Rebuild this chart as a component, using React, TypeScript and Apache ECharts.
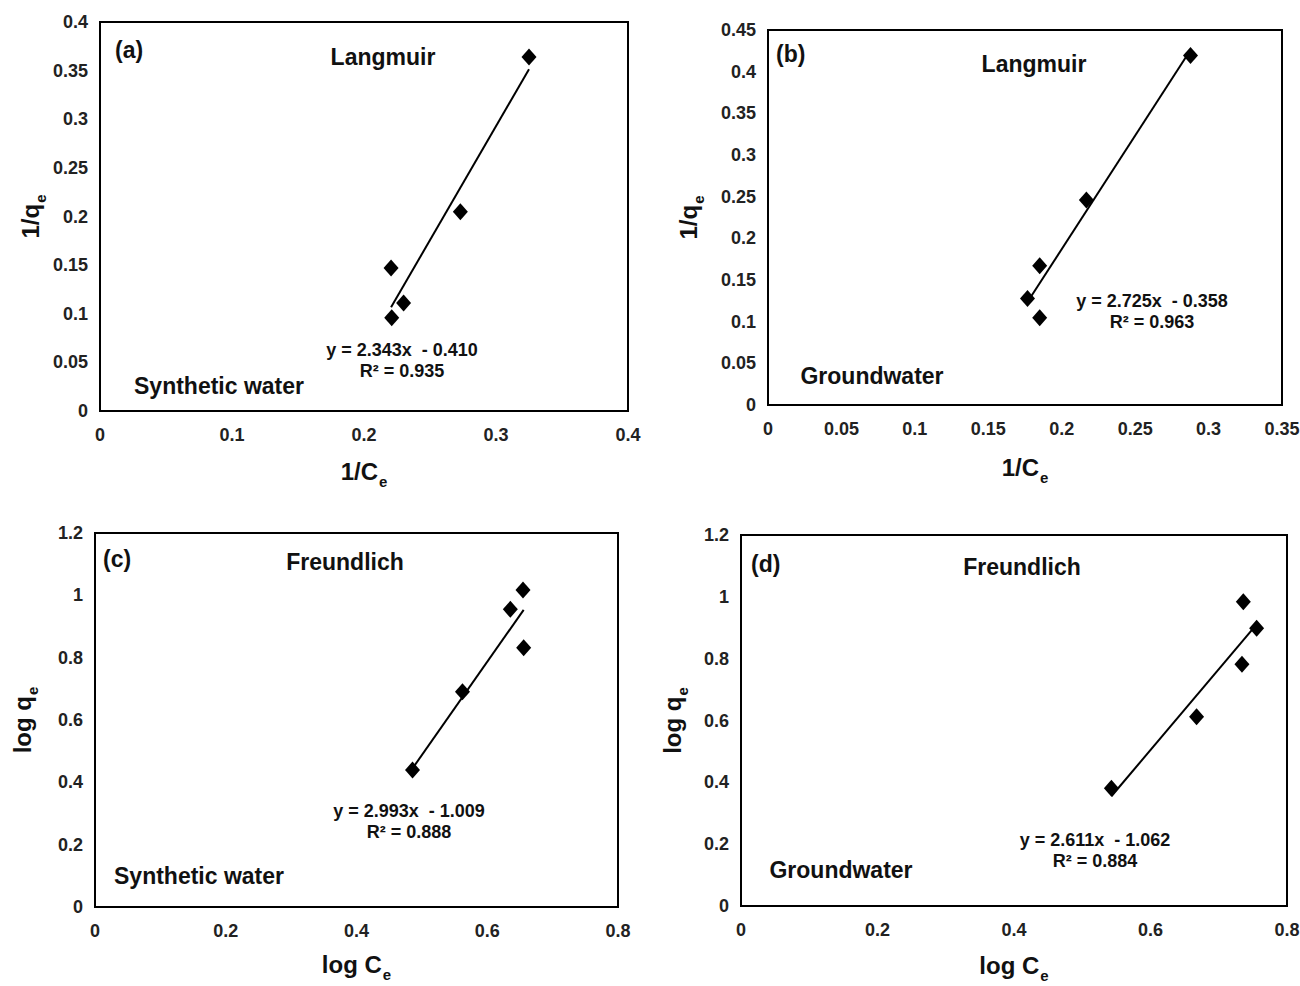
import React, { useEffect, useRef } from 'react';
import * as echarts from 'echarts';

// Panel (a) Langmuir, synthetic water
const aX = [0.325, 0.273, 0.2205, 0.23, 0.221];
const aY = [0.364, 0.205, 0.147, 0.111, 0.096];
// Panel (b) Langmuir, groundwater
const bX = [0.2877, 0.2168, 0.185, 0.1767, 0.185];
const bY = [0.4195, 0.246, 0.167, 0.1277, 0.1047];
// Panel (c) Freundlich, synthetic water
const cX = [0.6547, 0.6353, 0.6557, 0.5621, 0.4857];
const cY = [1.017, 0.955, 0.832, 0.691, 0.4395];
// Panel (d) Freundlich, groundwater
const dX = [0.736, 0.7555, 0.734, 0.6675, 0.5427];
const dY = [0.984, 0.898, 0.782, 0.612, 0.3806];

const slopes = [2.343, 2.725, 2.993, 2.611];
const intercepts = [-0.41, -0.358, -1.009, -1.062];
const r2 = ['0.935', '0.963', '0.888', '0.884'];
const eqText = ['y = 2.343x  - 0.410', 'y = 2.725x  - 0.358', 'y = 2.993x  - 1.009', 'y = 2.611x  - 1.062'];
const letters = ['(a)', '(b)', '(c)', '(d)'];
const models = ['Langmuir', 'Langmuir', 'Freundlich', 'Freundlich'];
const waters = ['Synthetic water', 'Groundwater', 'Synthetic water', 'Groundwater'];
const xMaxes = [0.4, 0.35, 0.8, 0.8];
const xIntervals = [0.1, 0.05, 0.2, 0.2];
const yMaxes = [0.4, 0.45, 1.2, 1.2];
const yIntervals = [0.05, 0.05, 0.2, 0.2];
const xNames = ['1/C', '1/C', 'log C', 'log C'];
const yNames = ['1/q', '1/q', 'log q', 'log q'];

const FONT = '"Liberation Sans", Arial, sans-serif';

export default function App() {
  const ref = useRef<HTMLDivElement>(null);
  useEffect(() => {
    if (!ref.current) return;
    const chart = echarts.init(ref.current, null, { renderer: 'svg' });
    const xs = [aX, bX, cX, dX];
    const ys = [aY, bY, cY, dY];
    const grids = [
      { left: 100, top: 22, width: 528, height: 389 },
      { left: 768, top: 30, width: 514, height: 375 },
      { left: 95, top: 533, width: 523, height: 374 },
      { left: 741, top: 535, width: 546, height: 371 },
    ];
    const xNameGap = [47, 49, 44, 46];
    const yNameGap = [57, 67, 60, 56];
    // annotation positions (pixels)
    const letterPos = [[115, 50], [776, 54], [103, 559], [751, 564]];
    const modelPos = [[383, 57], [1034, 64], [345, 562], [1022, 567]];
    const eqPos = [[402, 350], [1152, 301], [409, 811], [1095, 840]];
    const waterPos = [[219, 386], [872, 376], [199, 876], [841, 870]];

    const rich = {
      m: { fontSize: 24, fontWeight: 'bold', fontFamily: FONT, color: '#111', lineHeight: 26 },
      s: { fontSize: 15, fontWeight: 'bold', fontFamily: FONT, color: '#111', lineHeight: 26, verticalAlign: 'bottom', padding: [0, 0, -5, 1] },
    };

    const series: any[] = [];
    xs.forEach((xv, i) => {
      series.push({
        type: 'scatter',
        xAxisIndex: i,
        yAxisIndex: i,
        symbol: 'diamond',
        symbolSize: [15, 17],
        itemStyle: { color: '#000', opacity: 1 },
        data: xv.map((x, k) => [x, ys[i][k]]),
        z: 3,
      });
      const x0 = Math.min(...xv);
      const x1 = Math.max(...xv);
      series.push({
        type: 'line',
        xAxisIndex: i,
        yAxisIndex: i,
        symbol: 'none',
        lineStyle: { color: '#000', width: 2 },
        data: [
          [x0, slopes[i] * x0 + intercepts[i]],
          [x1, slopes[i] * x1 + intercepts[i]],
        ],
        z: 2,
      });
    });

    const graphic: any[] = [];
    for (let i = 0; i < 4; i++) {
      graphic.push({
        type: 'text', x: letterPos[i][0], y: letterPos[i][1],
        style: { text: letters[i], font: `bold 23px ${FONT}`, fill: '#111', align: 'left', verticalAlign: 'middle' },
      });
      graphic.push({
        type: 'text', x: modelPos[i][0], y: modelPos[i][1],
        style: { text: models[i], font: `bold 23px ${FONT}`, fill: '#111', align: 'center', verticalAlign: 'middle' },
      });
      graphic.push({
        type: 'text', x: eqPos[i][0], y: eqPos[i][1],
        style: { text: eqText[i], font: `bold 18px ${FONT}`, fill: '#111', align: 'center', verticalAlign: 'middle' },
      });
      graphic.push({
        type: 'text', x: eqPos[i][0], y: eqPos[i][1] + 21,
        style: { text: 'R² = ' + r2[i], font: `bold 18px ${FONT}`, fill: '#111', align: 'center', verticalAlign: 'middle' },
      });
      graphic.push({
        type: 'text', x: waterPos[i][0], y: waterPos[i][1],
        style: { text: waters[i], font: `bold 23px ${FONT}`, fill: '#111', align: 'center', verticalAlign: 'middle' },
      });
    }

    chart.setOption({
      animation: false,
      backgroundColor: '#fff',
      grid: grids.map((g) => ({
        ...g,
        show: true,
        borderColor: '#000',
        borderWidth: 2,
        backgroundColor: 'transparent',
        containLabel: false,
        outerBoundsMode: 'none',
      })),
      xAxis: grids.map((_, i) => ({
        type: 'value',
        gridIndex: i,
        min: 0,
        max: xMaxes[i],
        interval: xIntervals[i],
        name: `{m|${xNames[i]}}{s|e}`,
        nameLocation: 'middle',
        nameGap: xNameGap[i],
        nameTextStyle: { rich },
        axisLine: { show: false },
        axisTick: { show: false },
        splitLine: { show: false },
        axisLabel: { fontFamily: FONT, fontSize: 18, fontWeight: 'bold', color: '#222', margin: 15 },
      })),
      yAxis: grids.map((_, i) => ({
        type: 'value',
        gridIndex: i,
        min: 0,
        max: yMaxes[i],
        interval: yIntervals[i],
        name: `{m|${yNames[i]}}{s|e}`,
        nameLocation: 'middle',
        nameGap: yNameGap[i],
        nameTextStyle: { rich },
        axisLine: { show: false },
        axisTick: { show: false },
        splitLine: { show: false },
        axisLabel: { fontFamily: FONT, fontSize: 18, fontWeight: 'bold', color: '#222', margin: 12 },
      })),
      series,
      graphic,
    });
    return () => chart.dispose();
  }, []);
  return <div ref={ref} style={{ position: 'absolute', left: 0, top: 0, width: 1300, height: 986 }} />;
}
